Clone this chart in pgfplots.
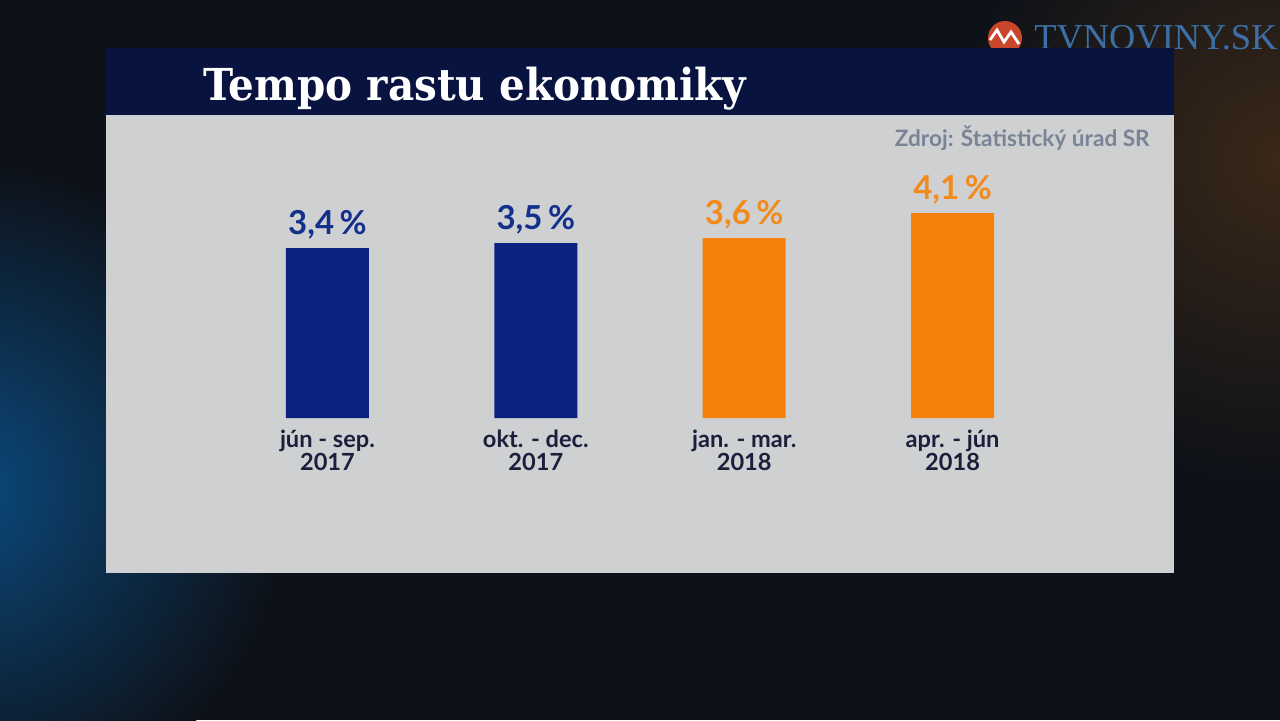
\documentclass[border=0pt]{standalone}
\usepackage{pgfplots}
\pgfplotsset{compat=1.18}
\usepackage{fontspec}
\setmainfont{Lato}
\newfontfamily\titlefont{DejaVu Serif Bold}[FakeStretch=0.92]
\newfontfamily\logofont{Liberation Serif}
\definecolor{bgdark}{HTML}{0D1118}
\definecolor{bgblue}{HTML}{0B4A7E}
\definecolor{bgbrown}{HTML}{3A2818}
\definecolor{navybar}{HTML}{08133F}
\definecolor{panel}{HTML}{CFD0D2}
\definecolor{barblue}{HTML}{0B2280}
\definecolor{barorange}{HTML}{F5810D}
\definecolor{valblue}{HTML}{13308C}
\definecolor{valorange}{HTML}{F28A1C}
\definecolor{catcol}{HTML}{1A1F3C}
\definecolor{srccol}{HTML}{7A8497}
\definecolor{logoblue}{HTML}{3C6FA8}
\definecolor{logored}{HTML}{C9462B}
\begin{document}
\begin{tikzpicture}[x=0.5pt,y=0.5pt]
% background
\fill[bgdark] (0,0) rectangle (1280,720);
\begin{scope}
\clip (0,0) rectangle (1280,720);
\shade[inner color=bgblue, outer color=bgdark] (-40,230) circle (330);
\shade[inner color=bgbrown, outer color=bgdark] (1280,560) circle (330);
\end{scope}
% logo
\fill[logored] (1005,682) circle (17);
\draw[white, line width=1.4pt] (990,680) -- (997,690) -- (1004,678) -- (1011,688) -- (1019,676);
\draw[white, line width=0.8pt] (984,668) .. controls (1000,660) and (1015,672) .. (1028,666);
\node[anchor=base west, inner sep=0pt, text=logoblue] at (1034,671) {\logofont\fontsize{18.2}{20}\selectfont TVNOVINY.SK};
% title bar and panel
\fill[navybar] (106,605) rectangle (1174,672);
\fill[panel] (106,147) rectangle (1174,605);
\node[anchor=base west, inner sep=0pt, text=white] at (203,620) {\titlefont\fontsize{22}{24}\selectfont Tempo rastu ekonomiky};
\node[anchor=base east, inner sep=0pt, text=srccol] at (1150,574) {\bfseries\fontsize{11.3}{13}\selectfont Zdroj: Štatistický úrad SR};
\begin{axis}[
  at={(111.625pt,151pt)}, anchor=south west,
  scale only axis, width=416.75pt, height=112.5pt,
  xmin=-0.5, xmax=3.5, ymin=0, ymax=4.5,
  axis line style={draw=none},
  major tick length=0pt,
  ytick=\empty,
  xtick={0,1,2,3},
  xticklabels={{jún - sep.\\2017},{okt. - dec.\\2017},{jan. - mar.\\2018},{apr. - jún\\2018}},
  xticklabel style={align=center, anchor=north, inner sep=0pt, yshift=-6pt, text=catcol,
    font=\bfseries\fontsize{11.8}{11.5}\selectfont},
  ybar, bar width=41.5pt,
  /pgf/number format/assume math mode=true,
  nodes near coords={\pgfmathprintnumber[use comma,fixed,precision=1]{\pgfplotspointmeta}\,\%},
  nodes near coords style={anchor=base, inner sep=0pt, yshift=7pt, font=\bfseries\fontsize{16.5}{18}\selectfont},
  clip=false,
]
\addplot[fill=barblue, draw=none, bar shift=0pt, nodes near coords style={text=valblue}] coordinates {(0,3.4) (1,3.5)};
\addplot[fill=barorange, draw=none, bar shift=0pt, nodes near coords style={text=valorange}] coordinates {(2,3.6) (3,4.1)};
\end{axis}
\end{tikzpicture}
\end{document}
